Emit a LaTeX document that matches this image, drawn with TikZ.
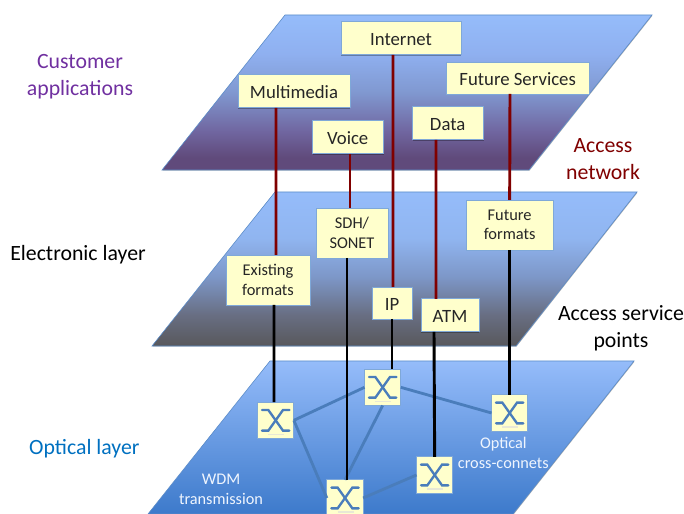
\documentclass[tikz,border=0pt]{standalone}
\usepackage{xcolor}
\usepackage{fontspec}
\setmainfont{Carlito}
\usetikzlibrary{shadows,calc}
\definecolor{planetop}{HTML}{95BCFA}
\definecolor{planeedge}{HTML}{5B8CC8}
\definecolor{boxedge}{HTML}{7FA8D8}
\definecolor{boxfill}{HTML}{FFFFCC}
\definecolor{linkblue}{HTML}{4A7DBB}
\definecolor{feedred}{HTML}{800000}
\definecolor{custpurple}{HTML}{7030A0}
\definecolor{opticblue}{HTML}{0070C0}
\definecolor{purpa}{HTML}{604A7B}
\definecolor{purpb}{HTML}{7066A0}
\definecolor{purpc}{HTML}{8098D0}
\definecolor{purpd}{HTML}{8FB0F0}
\definecolor{graya}{HTML}{58585C}
\definecolor{grayb}{HTML}{686E82}
\definecolor{grayc}{HTML}{7D97C8}
\definecolor{grayd}{HTML}{90B5F0}
\definecolor{wdmblue}{HTML}{3D7ACB}
\pgfdeclareverticalshading{custplane}{100bp}{color(0bp)=(purpa); color(29bp)=(purpa); color(37.5bp)=(purpb); color(50bp)=(purpc); color(62.5bp)=(purpd); color(75bp)=(planetop); color(100bp)=(planetop)}
\pgfdeclareverticalshading{elecplane}{100bp}{color(0bp)=(graya); color(25bp)=(graya); color(35bp)=(grayb); color(47.5bp)=(grayc); color(60bp)=(grayd); color(75bp)=(planetop); color(100bp)=(planetop)}
\tikzset{
    softshadow/.style={drop shadow={shadow xshift=0.4pt,shadow yshift=-0.6pt,opacity=0.3,fill=black}},
    plane/.style={draw=planeedge,line width=0.5pt,softshadow},
    fmtbox/.style={draw=boxedge,fill=boxfill,line width=0.6pt,outer sep=0pt,inner sep=0pt,align=center,font=\fontsize{16}{16}\selectfont,text=black!85,text height=0.43cm,text depth=0cm,softshadow},
    smallbox/.style={draw=boxedge,fill=boxfill,line width=0.6pt,outer sep=0pt,inner sep=0pt,align=center,font=\fontsize{14}{16.5}\selectfont,text=black!85,softshadow},
    xconn/.style={draw=boxedge,fill=boxfill,minimum size=1.09cm,line width=0.6pt,outer sep=0pt,inner sep=0pt,softshadow,
        path picture={
            \coordinate (c) at (path picture bounding box.center);
            \draw[boxfill!80!black!45,line width=1pt] ($(c)+(-0.22,-0.42)$) -- ($(c)+(0.26,-0.42)$);
            \draw[linkblue,line width=2pt,line cap=round] ($(c)+(-0.41,0.31)$) -- ($(c)+(-0.22,0.31)$) -- ($(c)+(0.22,-0.31)$) -- ($(c)+(0.41,-0.31)$);
            \draw[linkblue,line width=2pt,line cap=round] ($(c)+(-0.41,-0.31)$) -- ($(c)+(-0.22,-0.31)$) -- ($(c)+(0.22,0.31)$) -- ($(c)+(0.41,0.31)$);
        }},
    link/.style={linkblue,line width=2.4pt},
    feed/.style={feedred,line width=2.5pt},
    trunk/.style={black,line width=2.5pt},
    sidelabel/.style={align=center,font=\fontsize{18.6}{23}\selectfont},
    planenote/.style={align=center,text=white!85!planetop,font=\fontsize{13.9}{17}\selectfont}
}
\begin{document}
\begin{tikzpicture}
    \clip (0,0) rectangle (20.52,15.42);
    % planes
    \draw[plane,shade,shading=custplane] (8.55,14.97) -- (4.86,10.32) -- (15.87,10.32) -- (19.56,14.97) -- cycle;
    \draw[plane,shade,shading=elecplane] (8.25,9.66) -- (4.56,5.04) -- (15.48,5.04) -- (19.11,9.66) -- cycle;
    \draw[plane,top color=planetop,bottom color=wdmblue] (8.10,4.59) -- (4.44,0) -- (15.39,0) -- (19.02,4.59) -- cycle;

    % optical cross-connects
    \node[xconn] (xa) at (8.27,2.81) {};
    \node[xconn] (xb) at (11.48,3.80) {};
    \node[xconn] (xc) at (15.29,3.03) {};
    \node[xconn] (xd) at (13.04,1.17) {};
    \node[xconn] (xe) at (10.35,0.48) {};

    % fibres
    \draw[link] (xa.east) -- (xb.west);
    \draw[link] (xb.east) -- (xc.west);
    \draw[link] (xa.east) -- (xe.west);
    \draw[link] (xb.south) -- (xe.north);
    \draw[link] (xe.east) -- (xd.west);

    % top boxes
    \node[fmtbox,minimum width=3.6cm,minimum height=0.99cm] (internet) at (12.03,14.27) {Internet};
    \node[fmtbox,minimum width=4.29cm,minimum height=0.96cm] (futsrv) at (15.53,13.08) {Future Services};
    \node[fmtbox,minimum width=3.36cm,minimum height=0.99cm] (media) at (8.82,12.68) {Multimedia};
    \node[fmtbox,minimum width=2.13cm,minimum height=0.99cm] (voice) at (10.43,11.30) {Voice};
    \node[fmtbox,minimum width=2.13cm,minimum height=0.99cm] (data) at (13.43,11.72) {Data};

    % middle boxes
    \node[smallbox,minimum width=2.52cm,minimum height=1.5cm] (exist) at (8.04,7.02) {Existing\\formats};
    \node[smallbox,minimum width=2.16cm,minimum height=1.5cm] (sdh) at (10.56,8.43) {SDH/\\SONET};
    \node[smallbox,minimum width=2.61cm,minimum height=1.5cm] (futfmt) at (15.29,8.67) {Future\\formats};
    \node[fmtbox,minimum width=1.2cm,minimum height=0.96cm] (ip) at (11.76,6.33) {IP};
    \node[fmtbox,minimum width=1.74cm,minimum height=0.99cm] (atm) at (13.50,5.96) {ATM};

    % access network lines
    \draw[feed] ([xshift=-0.54cm]media.south) -- ([xshift=0.24cm]exist.north);
    \draw[feed] ([xshift=0.07cm]voice.south) -- ([xshift=-0.06cm]sdh.north);
    \draw[feed] ([xshift=-0.24cm]internet.south) -- ([xshift=0.03cm]ip.north);
    \draw[feed] ([xshift=-0.35cm]data.south) -- ([xshift=-0.42cm]atm.north);
    \draw[feed] ([xshift=-0.23cm]futsrv.south) -- (futfmt.north);

    % lines down to the optical layer
    \draw[trunk] ([xshift=0.18cm]exist.south) -- ([xshift=-0.05cm]xa.north);
    \draw[trunk] ([xshift=-0.15cm]sdh.south) -- ([xshift=0.06cm]xe.north);
    \draw[trunk] (ip.south) -- ([xshift=0.28cm]xb.north);
    \draw[trunk] ([xshift=-0.48cm]atm.south) -- (xd.north);
    \draw[trunk] (futfmt.south) -- (xc.north);

    % labels
    \node[sidelabel,text=custpurple] (cust) at (2.40,13.11) {Customer\\applications};
    \node[sidelabel,text=feedred] (accnet) at (18.09,10.65) {Access\\network};
    \node[sidelabel,text=black] (elec) at (2.34,7.77) {Electronic layer};
    \node[sidelabel,text=black] (accsrv) at (18.63,5.58) {Access service\\points};
    \node[sidelabel,text=opticblue] (optic) at (2.53,1.95) {Optical layer};
    \node[planenote] (wdm) at (6.63,0.73) {WDM\\transmission};
    \node[planenote] (oxc) at (15.10,1.84) {Optical\\cross-connets};
\end{tikzpicture}
\end{document}
